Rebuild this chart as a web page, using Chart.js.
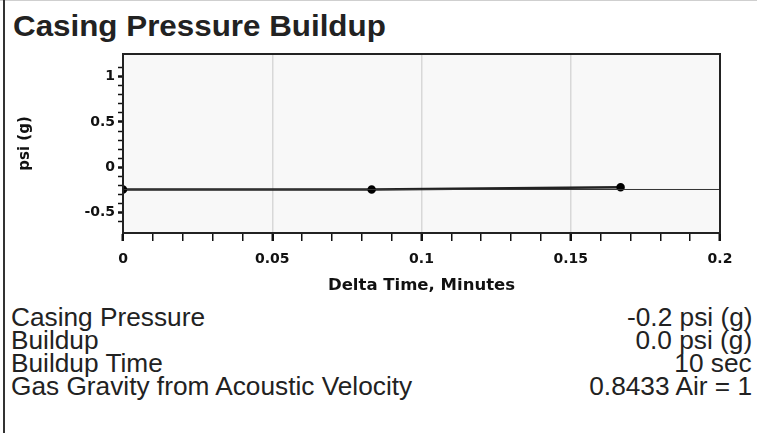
<!DOCTYPE html>
<html>
<head>
<meta charset="utf-8">
<script src="https://cdn.jsdelivr.net/npm/chart.js@4.4.1/dist/chart.umd.min.js"></script>
<style>
  body { margin: 0; background: #fff; width: 759px; height: 433px; overflow: hidden; position: relative; font-family: "Liberation Sans", Arial, sans-serif; }
  #frame-top { position: absolute; left: 0; top: 0; width: 757px; height: 1px; background: #cfcfcf; }
  #frame-left { position: absolute; left: 3px; top: 0; width: 2px; height: 433px; background: #333; }
  #title { position: absolute; left: 13px; top: 9px; font-size: 30px; font-weight: bold; color: #222; line-height: 34px; transform: scaleX(1.045); transform-origin: left center; }
  #chart-box { position: absolute; left: 0; top: 40px; width: 759px; height: 260px; }
  .row { position: absolute; left: 11px; right: 7px; font-size: 25px; color: #222; line-height: 23px; white-space: nowrap; }
  .row span { position: absolute; display: inline-block; transform: scaleX(1.05); }
  .row span.k { left: 0; transform-origin: left center; }
  .row span.v { right: 0; transform-origin: right center; }
</style>
</head>
<body>
<div id="frame-top"></div>
<div id="frame-left"></div>
<div id="title">Casing Pressure Buildup</div>
<div id="chart-box"><canvas id="mainChart" width="759" height="260"></canvas></div>
<div id="info"></div>

<script>
// valores
const timeMinutes = [0, 0.0833, 0.1667];
const pressurePsi = [-0.245, -0.245, -0.22];
const baselineTime = [0, 0.2];
const baselinePsi = [-0.245, -0.245];

const infoLabels = ["Casing Pressure", "Buildup", "Buildup Time", "Gas Gravity from Acoustic Velocity"];
const infoValues = ["-0.2 psi (g)", "0.0 psi (g)", "10 sec", "0.8433 Air = 1"];

// linhas de texto abaixo do gráfico
const info = document.getElementById('info');
infoLabels.forEach((label, i) => {
    const row = document.createElement('div');
    row.className = 'row';
    row.style.top = (306 + i * 23) + 'px';
    row.innerHTML = `<span class="k">${label}</span><span class="v">${infoValues[i]}</span>`;
    info.appendChild(row);
});

const tickFont = { family: "DejaVu Sans", size: 14, weight: 'bold' };

// fundo cinza claro e moldura da área do gráfico
const plotFrame = {
    id: 'plotFrame',
    beforeDraw(chart) {
        const { ctx, chartArea: a } = chart;
        ctx.save();
        ctx.fillStyle = '#f8f8f8';
        ctx.fillRect(a.left, a.top, a.right - a.left, a.bottom - a.top);
        ctx.restore();
    },
    afterDraw(chart) {
        const { ctx, chartArea: a } = chart;
        ctx.save();
        ctx.strokeStyle = '#222';
        ctx.lineWidth = 2;
        ctx.strokeRect(a.left, a.top, a.right - a.left, a.bottom - a.top);
        ctx.restore();
    }
};

const isMajor = (v, step) => Math.abs(v / step - Math.round(v / step)) < 1e-6;

new Chart(document.getElementById('mainChart').getContext('2d'), {
    type: 'line',
    data: {
        datasets: [{
            data: baselineTime.map((t, i) => ({ x: t, y: baselinePsi[i] })),
            borderColor: '#333',
            borderWidth: 1,
            pointRadius: 0
        }, {
            data: timeMinutes.map((t, i) => ({ x: t, y: pressurePsi[i] })),
            borderColor: '#222',
            borderWidth: 2.5,
            pointRadius: 3,
            pointBackgroundColor: '#000',
            pointBorderColor: '#000'
        }]
    },
    options: {
        responsive: false,
        animation: false,
        layout: { padding: { top: 14, right: 39, left: 0, bottom: 0 } },
        plugins: { legend: { display: false }, tooltip: { enabled: false } },
        scales: {
            x: {
                type: 'linear',
                min: 0,
                max: 0.2,
                afterFit: s => { s.height = 67; },
                afterBuildTicks: s => { s.ticks = s.ticks.filter(t => isMajor(t.value, 0.01)); },
                ticks: {
                    stepSize: 0.01,
                    autoSkip: false,
                    maxRotation: 0,
                    padding: 10,
                    color: '#111',
                    font: tickFont,
                    callback: v => isMajor(v, 0.05) ? String(Math.round(v * 100) / 100) : ''
                },
                grid: {
                    drawOnChartArea: true,
                    tickLength: 8,
                    color: c => (isMajor(c.tick.value, 0.05) && c.tick.value > 0.001 && c.tick.value < 0.199) ? '#d8d8d8' : 'rgba(0,0,0,0)',
                    tickColor: '#111',
                    lineWidth: 1.5,
                    tickWidth: c => isMajor(c.tick.value, 0.05) ? 2.5 : 1.5
                },
                border: { display: true, color: '#222', width: 2 },
                title: {
                    display: true,
                    text: 'Delta Time, Minutes',
                    color: '#111',
                    font: { family: "DejaVu Sans", size: 16.5, weight: 'bold' },
                    padding: { top: 0, bottom: 4 }
                }
            },
            y: {
                type: 'linear',
                min: -0.725,
                max: 1.25,
                afterFit: s => { s.width = 123; },
                afterBuildTicks: s => { s.ticks = s.ticks.filter(t => isMajor(t.value, 0.1)); },
                ticks: {
                    stepSize: 0.1,
                    autoSkip: false,
                    padding: 3,
                    color: '#111',
                    font: tickFont,
                    callback: v => isMajor(v, 0.5) ? String(Math.round(v * 10) / 10) : ''
                },
                grid: {
                    drawOnChartArea: false,
                    tickLength: 5,
                    tickColor: '#111',
                    tickWidth: c => isMajor(c.tick.value, 0.5) ? 2.5 : 1.5
                },
                border: { display: true, color: '#222', width: 2 },
                title: {
                    display: true,
                    text: 'psi (g)',
                    color: '#111',
                    font: { family: "DejaVu Sans", size: 15, weight: 'bold' },
                    padding: { top: 16, bottom: 0 }
                }
            }
        }
    },
    plugins: [plotFrame]
});
</script>
</body>
</html>
